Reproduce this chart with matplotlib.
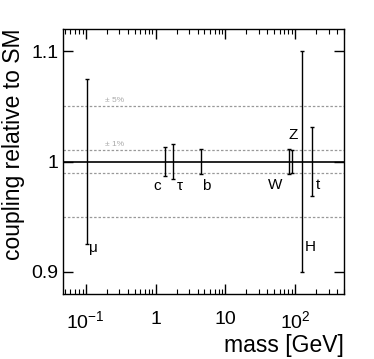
import numpy as np
import matplotlib
matplotlib.use("Agg")
import matplotlib.pyplot as plt

# 数据: 粒子质量与耦合误差
names = ["μ", "c", "τ", "b", "W", "Z", "H", "t"]
masses = [0.1057, 1.36, 1.75, 4.45, 80.4, 90.6, 125.0, 173.0]
errors = [0.075, 0.013, 0.016, 0.011, 0.011, 0.010, 0.10, 0.031]
label_x = [0.113, 0.93, 2.0, 4.7, 41.0, 79.0, 135.0, 196.0]
label_y = [0.928, 0.984, 0.984, 0.984, 0.985, 1.030, 0.929, 0.985]
band_levels = [0.01, 0.05]
band_texts = ["± 1%", "± 5%"]

plt.rcParams['font.family'] = ['Liberation Sans', 'DejaVu Sans']
plt.rcParams['mathtext.fontset'] = 'custom'
plt.rcParams['mathtext.rm'] = 'Liberation Sans'
plt.rcParams['mathtext.it'] = 'Liberation Sans'

fig = plt.figure(figsize=(3.74, 3.59), dpi=100)
ax = fig.add_axes([63 / 374, 1 - 294 / 359, 281 / 374, 265 / 359])

for lv in band_levels:
    ax.axhline(1 + lv, color='#999999', ls=(0, (2, 1.5)), lw=0.9)
    ax.axhline(1 - lv, color='#999999', ls=(0, (2, 1.5)), lw=0.9)
for lv, txt in zip(band_levels, band_texts):
    ax.text(0.19, 1 + lv + 0.002, txt, color='#aaaaaa', fontsize=6, va='bottom')

ax.axhline(1.0, color='black', lw=1.2)
ax.errorbar(masses, np.ones(len(masses)), yerr=errors, fmt='none', ecolor='black',
            elinewidth=1.0, capsize=1.5, capthick=1.0)

for n, x, y in zip(names, label_x, label_y):
    ax.text(x, y, n, fontsize=11, ha='left', va='top')

ax.set_xscale('log')
ax.set_xlim(0.0473, 500)
ax.set_ylim(0.88, 1.12)
ax.set_xticks([0.1, 1, 10, 100])
ax.set_xticklabels([r'$10^{-1}$', '1', '10', r'$10^{2}$'])
ax.set_yticks([0.9, 1.0, 1.1])
ax.set_yticklabels(['0.9', '1', '1.1'])
ax.tick_params(which='both', direction='in', top=True, right=True, labelsize=14)
ax.tick_params(which='major', length=7, width=1)
ax.tick_params(which='minor', length=3.5, width=0.8)
ax.tick_params(axis='x', pad=12)
ax.tick_params(axis='y', which='minor', left=False, right=False)
for s in ax.spines.values():
    s.set_linewidth(1.0)

ax.set_xlabel('mass [GeV]', fontsize=16.5, loc='right', labelpad=1)
ax.set_ylabel('coupling relative to SM', fontsize=16.5, loc='top', labelpad=4)

fig.savefig('out.png', dpi=100)
